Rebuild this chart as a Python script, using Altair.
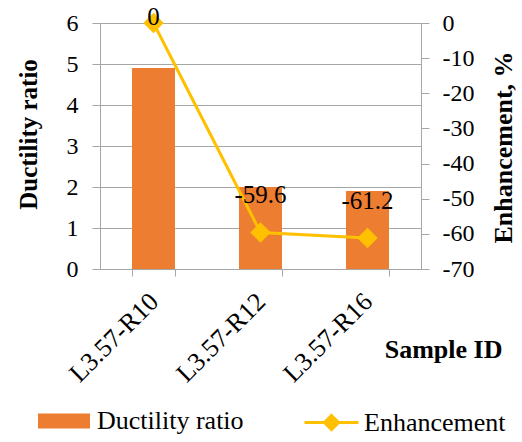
import altair as alt
import pandas as pd

# Sample identifiers and measured values
samples = ["L3.57-R10", "L3.57-R12", "L3.57-R16"]
ductility = [4.9, 2.0, 1.9]
enhancement = [0, -59.6, -61.2]
series_names = ["Ductility ratio", "Enhancement"]

BAR_COLOR = "#ED7D31"
LINE_COLOR = "#FFC000"
GRID = "#A6A6A6"
FONT = "Times New Roman, 'Liberation Serif', serif"

df = pd.DataFrame({"Sample": samples, "Ductility": ductility, "Enhancement": enhancement})
df["bar_series"] = series_names[0]
df["line_series"] = series_names[1]

x_enc = alt.X(
    "Sample:N",
    sort=samples,
    scale=alt.Scale(paddingInner=0.6, paddingOuter=0.3),
    axis=alt.Axis(
        title="Sample ID",
        titleFont=FONT, titleFontSize=26, titleFontWeight="bold", titleColor="black",
        titleX=402, titleY=88, titleAlign="right", titleBaseline="alphabetic",
        labelAngle=-45, labelFont=FONT, labelFontSize=26, labelColor="black",
        labelPadding=12, labelOffset=-9, tickBand="extent", tickSize=7, tickColor=GRID,
        domainColor=GRID, grid=False,
    ),
)

bars = alt.Chart(df).mark_bar(size=43).encode(
    x=x_enc,
    y=alt.Y(
        "Ductility:Q",
        scale=alt.Scale(domain=[0, 6], nice=False),
        axis=alt.Axis(
            title="Ductility ratio", orient="left", values=[0, 1, 2, 3, 4, 5, 6],
            titleFont=FONT, titleFontSize=25, titleFontWeight="bold", titleColor="black",
            titleX=-72, titleY=111, titleAlign="center", titleBaseline="middle", titleAngle=-90,
            labelFont=FONT, labelFontSize=24, labelColor="black", labelPadding=14,
            tickSize=8, tickColor=GRID, domainColor=GRID,
            grid=True, gridColor=GRID, gridWidth=1,
        ),
    ),
    color=alt.Color(
        "bar_series:N",
        scale=alt.Scale(domain=[series_names[0]], range=[BAR_COLOR]),
        legend=alt.Legend(
            title=None, orient="none", legendX=-62, legendY=372,
            symbolType="M-1,-0.29H1V0.29H-1Z", symbolSize=2704,
            symbolStrokeWidth=0, symbolOpacity=1,
            labelFont=FONT, labelFontSize=26, labelColor="black", labelOffset=7,
            padding=0,
        ),
    ),
)

y_right = alt.Y(
    "Enhancement:Q",
    scale=alt.Scale(domain=[-70, 0], nice=False),
    axis=alt.Axis(
        title="Enhancement, %", orient="right",
        values=[0, -10, -20, -30, -40, -50, -60, -70],
        labelExpr="toString(datum.value)",
        titleFont=FONT, titleFontSize=26, titleFontWeight="bold", titleColor="black",
        titleX=82, titleY=124, titleAlign="center", titleBaseline="middle", titleAngle=-90,
        labelFont=FONT, labelFontSize=24, labelColor="black", labelPadding=13,
        tickSize=8, tickColor=GRID, domainColor=GRID, grid=False,
    ),
)

base = alt.Chart(df).encode(x=alt.X("Sample:N", sort=samples), y=y_right)

line = base.mark_line(strokeWidth=3).encode(
    color=alt.Color(
        "line_series:N",
        scale=alt.Scale(domain=[series_names[1]], range=[LINE_COLOR]),
        legend=alt.Legend(
            title=None, orient="none", legendX=203, legendY=371,
            symbolType="M-1,0H1M0,-0.26L0.26,0L0,0.26L-0.26,0Z", symbolSize=2916,
            symbolStrokeWidth=3, symbolFillColor=LINE_COLOR, symbolStrokeColor=LINE_COLOR,
            labelFont=FONT, labelFontSize=26, labelColor="black", labelOffset=4,
            padding=0,
        ),
    )
)

points = base.mark_point(shape="diamond", size=420, filled=True, opacity=1, color=LINE_COLOR)

labels = base.transform_calculate(label="toString(datum.Enhancement)")

label_top = labels.transform_filter("datum.Enhancement == 0").mark_text(
    font=FONT, fontSize=25, color="black", dy=-6
).encode(text="label:N")

label_low = labels.transform_filter("datum.Enhancement < 0").mark_text(
    font=FONT, fontSize=25, color="black", dy=-37
).encode(text="label:N")

right_layer = alt.layer(line, points, label_top, label_low)

chart = (
    alt.layer(bars, right_layer)
    .resolve_scale(y="independent", color="independent")
    .properties(
        width=321,
        height=246,
        autosize=alt.AutoSizeParams(type="none"),
        padding={"left": 100, "top": 23, "right": 101, "bottom": 173},
        background="white",
    )
    .configure_view(stroke=None)
)

chart.save("out.html", embed_options={"renderer": "svg", "actions": False})
